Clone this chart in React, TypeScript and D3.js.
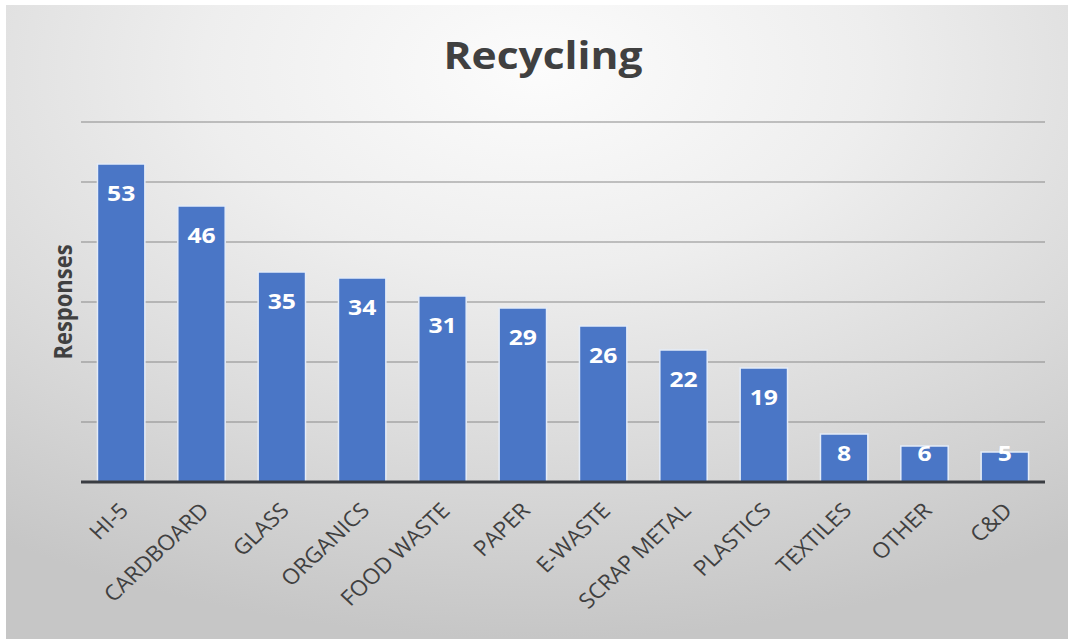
import React from 'react';
import * as d3 from 'd3';

const categories = ['HI-5', 'CARDBOARD', 'GLASS', 'ORGANICS', 'FOOD WASTE', 'PAPER', 'E-WASTE', 'SCRAP METAL', 'PLASTICS', 'TEXTILES', 'OTHER', 'C&D'];
const responses = [53, 46, 35, 34, 31, 29, 26, 22, 19, 8, 6, 5];
const yTicks = [0, 10, 20, 30, 40, 50, 60];
const chartTitle = 'Recycling';
const yTitle = 'Responses';

export default function App() {
  const W = 1068;
  const H = 641;
  const SX = 1.15; // horizontal glyph stretch seen in the reference
  const LSX = 1.06;
  const font = "'Open Sans', sans-serif";
  const textColor = '#404040';

  const x = d3.scaleBand<string>()
    .domain(categories)
    .range([81, 1045])
    .paddingInner(0.41)
    .paddingOuter(0.205);
  const y = d3.scaleLinear().domain([0, 60]).range([482, 122]);
  const [x0, x1] = x.range();

  return (
    <svg width={W} height={H} style={{ position: 'absolute', left: 0, top: 0 }} fontFamily={font}>
      <defs>
        <radialGradient id="bg" cx="0.5" cy="0.1" r="0.9">
          <stop offset="0" stopColor="#fcfcfc" />
          <stop offset="0.35" stopColor="#eeeeee" />
          <stop offset="0.7" stopColor="#d9d9d9" />
          <stop offset="1" stopColor="#c6c6c6" />
        </radialGradient>
      </defs>
      <rect x={0} y={0} width={W} height={H} fill="#ffffff" />
      <rect x={6} y={5} width={W - 6} height={634} fill="url(#bg)" />

      {/* gridlines */}
      {yTicks.filter(t => t > 0).map(t => (
        <line key={t} x1={x0} x2={x1} y1={y(t)} y2={y(t)} stroke="#8a8a8a" strokeOpacity={0.5} strokeWidth={2.2} />
      ))}

      {/* bars */}
      {categories.map((c, i) => (
        <rect
          key={c}
          x={x(c)}
          y={y(responses[i])}
          width={x.bandwidth()}
          height={y(0) - y(responses[i])}
          fill="#4a76c6"
          stroke="#e4ecf8"
          strokeWidth={1.5}
        />
      ))}

      {/* baseline */}
      <line x1={x0} x2={x1} y1={y(0)} y2={y(0)} stroke="#3a3d42" strokeWidth={3} />

      {/* value labels */}
      {categories.map((c, i) => {
        const cx = (x(c) as number) + x.bandwidth() / 2;
        const by = Math.min(y(responses[i]) + 37, y(0) - 21);
        return (
          <text
            key={c}
            transform={`translate(${cx},${by}) scale(${SX},1)`}
            textAnchor="middle"
            fill="#ffffff"
            fontWeight="bold"
            fontSize={21.5}
          >
            {responses[i]}
          </text>
        );
      })}

      {/* category labels */}
      {categories.map(c => {
        const cx = (x(c) as number) + x.bandwidth() / 2;
        return (
          <text
            key={c}
            transform={`translate(${cx - 3},${501}) scale(${LSX},1) rotate(-45)`}
            textAnchor="end"
            dy="0.72em"
            fill={textColor}
            fontSize={21.5}
          >
            {c}
          </text>
        );
      })}

      {/* title */}
      <text
        transform={`translate(543,68.5) scale(${SX},1)`}
        textAnchor="middle"
        fill={textColor}
        fontWeight="bold"
        fontSize={37}
      >
        {chartTitle}
      </text>

      {/* y axis title */}
      <text
        transform={`translate(72,302) scale(${SX},1) rotate(-90)`}
        textAnchor="middle"
        fill={textColor}
        fontWeight="bold"
        fontSize={22}
      >
        {yTitle}
      </text>
    </svg>
  );
}
